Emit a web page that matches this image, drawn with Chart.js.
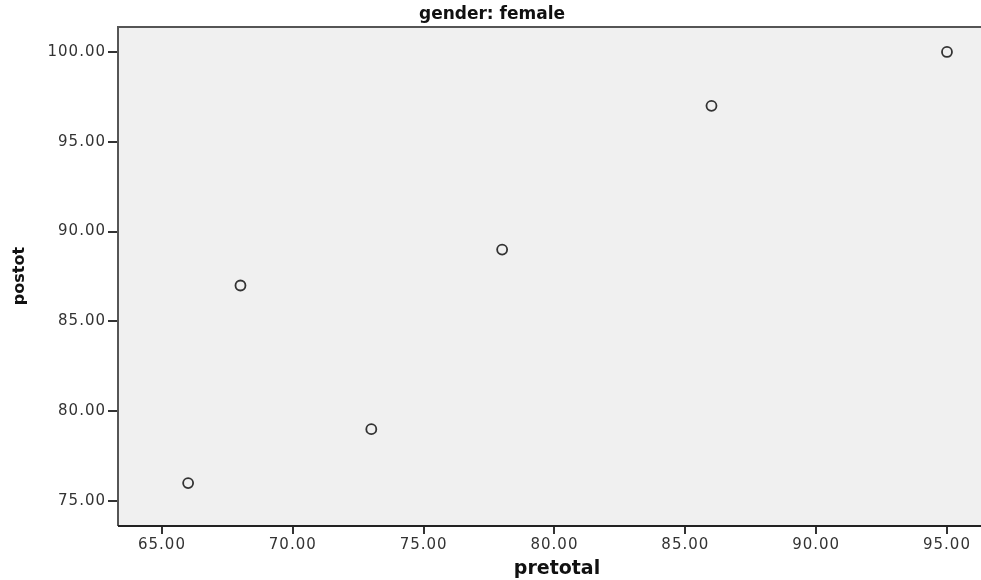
<!DOCTYPE html>
<html>
<head>
<meta charset="utf-8">
<script src="https://cdn.jsdelivr.net/npm/chart.js@4"></script>
<style>
  html, body { margin: 0; padding: 0; background: #fff; }
  #wrap { width: 981px; height: 580px; }
</style>
</head>
<body>
<div id="wrap"><canvas id="chart" width="981" height="580"></canvas></div>
<script>
// data
let pretotal = [66, 68, 73, 78, 86, 95];
let postot = [76, 87, 79, 89, 97, 100];
let xTicks = [65, 70, 75, 80, 85, 90, 95];
let yTicks = [75, 80, 85, 90, 95, 100];

let chartTitle = 'gender: female';
let xTitle = 'pretotal';
let yTitle = 'postot';

let points = pretotal.map((x, i) => ({ x: x, y: postot[i] }));

// grey panel, frame and the three titles
let spssLook = {
    id: 'spssLook',
    beforeDraw(chart) {
        let ctx = chart.ctx;
        let a = chart.chartArea;
        ctx.save();
        ctx.fillStyle = '#f0f0f0';
        ctx.fillRect(a.left, a.top, a.right - a.left, a.bottom - a.top);
        ctx.restore();
        ctx.letterSpacing = '1px';
    },
    afterDraw(chart) {
        let ctx = chart.ctx;
        let a = chart.chartArea;
        ctx.save();
        ctx.letterSpacing = '0px';
        ctx.strokeStyle = '#555';
        ctx.lineWidth = 2;
        ctx.beginPath();
        ctx.moveTo(a.left, a.bottom);
        ctx.lineTo(a.left, a.top);
        ctx.lineTo(a.right + 2, a.top);
        ctx.stroke();
        ctx.strokeStyle = '#222';
        ctx.beginPath();
        ctx.moveTo(a.left, a.bottom);
        ctx.lineTo(a.right + 2, a.bottom);
        ctx.stroke();

        ctx.fillStyle = '#111';
        ctx.textAlign = 'center';
        ctx.textBaseline = 'middle';
        ctx.font = 'bold 17px "DejaVu Sans"';
        ctx.fillText(chartTitle, 492, 15);
        ctx.font = 'bold 19px "DejaVu Sans"';
        ctx.fillText(xTitle, 557, 569);
        ctx.font = 'bold 16px "DejaVu Sans"';
        ctx.translate(20, 276);
        ctx.rotate(-Math.PI / 2);
        ctx.fillText(yTitle, 0, 0);
        ctx.restore();
    }
};

new Chart(document.getElementById('chart'), {
    type: 'scatter',
    data: {
        datasets: [{
            data: points,
            pointRadius: 5,
            pointHoverRadius: 5,
            pointBorderWidth: 1.8,
            pointBorderColor: '#333',
            pointBackgroundColor: 'rgba(0,0,0,0)'
        }]
    },
    options: {
        responsive: false,
        animation: false,
        layout: { autoPadding: false, padding: { top: 27, right: 0, left: 0, bottom: 0 } },
        plugins: {
            legend: { display: false },
            tooltip: { enabled: false },
            title: { display: false }
        },
        scales: {
            x: {
                type: 'linear',
                min: 63.32,
                max: 96.3,
                afterBuildTicks: axis => { axis.ticks = xTicks.map(v => ({ value: v })); },
                afterFit: axis => {
                    axis.height = 54;
                    axis.paddingLeft = 0;
                    axis.paddingRight = 0;
                },
                border: { display: false },
                grid: { drawOnChartArea: false, tickLength: 8, color: '#333', lineWidth: 2 },
                ticks: {
                    color: '#333',
                    padding: 2,
                    maxRotation: 0,
                    font: { family: 'DejaVu Sans', size: 15 },
                    callback: v => v.toFixed(2)
                }
            },
            y: {
                type: 'linear',
                min: 73.61,
                max: 101.39,
                afterBuildTicks: axis => { axis.ticks = yTicks.map(v => ({ value: v })); },
                afterFit: axis => {
                    axis.width = 118;
                    axis.paddingTop = 0;
                    axis.paddingBottom = 0;
                },
                border: { display: false },
                grid: { drawOnChartArea: false, tickLength: 10, color: '#333', lineWidth: 2 },
                ticks: {
                    color: '#333',
                    padding: 2,
                    font: { family: 'DejaVu Sans', size: 15 },
                    callback: v => v.toFixed(2)
                }
            }
        }
    },
    plugins: [spssLook]
});
</script>
</body>
</html>
